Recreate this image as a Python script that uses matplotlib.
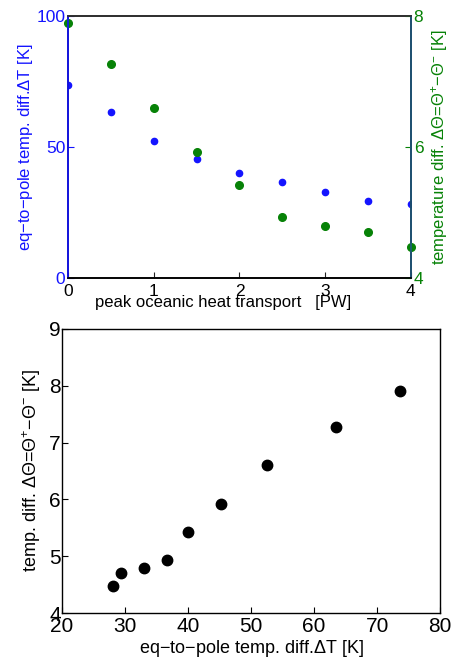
import numpy as np
import matplotlib
matplotlib.use('Agg')
import matplotlib.pyplot as plt

plt.rcParams['font.family'] = ['Liberation Sans', 'DejaVu Sans']
plt.rcParams['mathtext.fontset'] = 'custom'
plt.rcParams['mathtext.rm'] = 'Liberation Sans'
plt.rcParams['mathtext.it'] = 'Liberation Sans:italic'

# datos
transporte = [0, 0.5, 1, 1.5, 2, 2.5, 3, 3.5, 4]  # [PW]
delta_T = [73.7, 63.4, 52.5, 45.3, 40.0, 36.6, 33.0, 29.4, 28.1]  # [K]
delta_theta = [7.90, 7.27, 6.60, 5.92, 5.42, 4.93, 4.80, 4.71, 4.48]  # [K]

azul = '#1414ff'
verde = '#078207'
menos = '\u2212'

fig = plt.figure(figsize=(4.54, 6.63), dpi=100)

# panel superior
ax1 = fig.add_axes([0.150, 0.5807, 0.755, 0.395])
ax2 = ax1.twinx()
ax1.plot(transporte, delta_T, '.', color=azul, markersize=9)
ax2.plot(transporte, delta_theta, '.', color=verde, markersize=11, clip_on=False)
ax1.set_xlim(0, 4)
ax1.set_ylim(0, 100)
ax2.set_ylim(4, 8)
ax1.set_xticks([0, 1, 2, 3, 4])
ax1.set_yticks([0, 50, 100])
ax2.set_yticks([4, 6, 8])
ax1.tick_params(direction='in', length=4, labelsize=12.5, pad=2)
ax1.tick_params(axis='x', pad=4)
ax1.tick_params(axis='y', colors=azul)
ax1.tick_params(axis='x', colors='#222222', labelcolor='black')
ax2.tick_params(direction='in', length=4, labelsize=12.5, pad=2, colors=verde)
ax2.spines['left'].set_color(azul)
ax2.spines['right'].set_color('#1f5a80')
ax2.spines['top'].set_color('#333333')
ax1.spines['bottom'].set_color('#111111')
for s in list(ax1.spines.values()) + list(ax2.spines.values()):
    s.set_linewidth(1.2)
ax1.set_xlabel('peak oceanic heat transport   [PW]', fontsize=12)
ax1.xaxis.set_label_coords(0.452, -0.066)
ax1.set_ylabel('eq' + menos + 'to' + menos + 'pole temp. diff.' + r'$\Delta$T [K]',
               fontsize=12, color=azul, labelpad=1)
ax2.set_ylabel(r'temperature diff. $\Delta\Theta$=$\Theta^{+}$' + menos + r'$\Theta^{-}$ [K]',
               fontsize=12, color=verde, labelpad=4)

# panel inferior
ax3 = fig.add_axes([0.1366, 0.0754, 0.833, 0.4284])
ax3.plot(delta_T, delta_theta, '.', color='black', markersize=15)
ax3.set_xlim(20, 80)
ax3.set_ylim(4, 9)
ax3.set_xticks([20, 30, 40, 50, 60, 70, 80])
ax3.set_yticks([4, 5, 6, 7, 8, 9])
ax3.tick_params(direction='in', length=4, labelsize=15, pad=1)
ax3.tick_params(axis='x', pad=3)
for s in ax3.spines.values():
    s.set_linewidth(1.0)
ax3.set_xlabel('eq' + menos + 'to' + menos + 'pole temp. diff.' + r'$\Delta$T [K]',
               fontsize=13, labelpad=1)
ax3.set_ylabel(r'temp. diff. $\Delta\Theta$=$\Theta^{+}$' + menos + r'$\Theta^{-}$ [K]',
               fontsize=13, labelpad=4)

fig.savefig('out.png', dpi=100)
